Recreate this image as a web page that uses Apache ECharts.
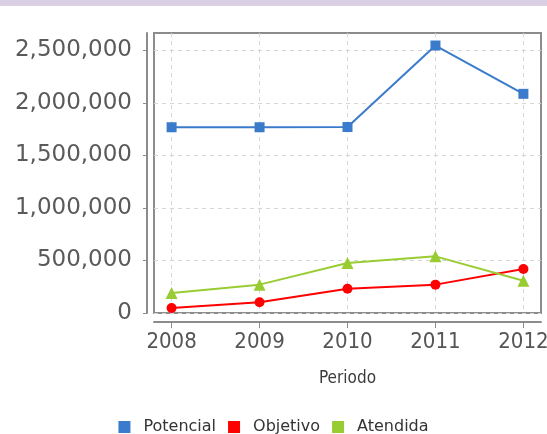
<!DOCTYPE html>
<html>
<head>
<meta charset="utf-8">
<script src="https://cdn.jsdelivr.net/npm/echarts@6/dist/echarts.min.js"></script>
<style>
html,body{margin:0;padding:0;background:#fff;}
#main{width:547px;height:434px;}
</style>
</head>
<body>
<div id="main"></div>
<script>
var years = [2008, 2009, 2010, 2011, 2012];
var potencial = [1768000, 1768000, 1770000, 2546000, 2086000];
var objetivo = [48000, 102000, 231000, 270000, 419000];
var atendida = [190000, 270000, 476000, 539000, 307000];
var yTicks = [0, 500000, 1000000, 1500000, 2000000, 2500000];
var color = ['#3a7bcc', '#ff0000', '#99cc33'];

function pairs(arr) {
	var out = [];
	for (var i = 0; i < years.length; i++) {
		out.push([years[i], arr[i]]);
	}
	return out;
}

function buildSerie(name, data, symbol, size, c) {
	return {
		name: name,
		type: 'line',
		data: pairs(data),
		symbol: symbol,
		symbolSize: size,
		lineStyle: { width: 2, color: c },
		itemStyle: { color: c },
		z: 3
	};
}

var chart = echarts.init(document.getElementById('main'));
var option = {
	animation: false,
	backgroundColor: '#fff',
	graphic: [{
		type: 'rect',
		shape: { x: 0, y: 0, width: 547, height: 6 },
		style: { fill: '#d9d0e3' }
	}],
	grid: {
		left: 154, right: 6, top: 33, bottom: 121,
		outerBoundsMode: 'none',
		containLabel: false,
		show: true,
		borderColor: '#8c8c8c',
		borderWidth: 2
	},
	legend: {
		top: 414,
		left: 'center',
		icon: 'rect',
		itemWidth: 12,
		itemHeight: 12,
		itemGap: 12,
		textStyle: { fontFamily: 'DejaVu Sans', fontSize: 16, color: '#333', padding: [0, 0, 0, 8] },
		data: ['Potencial', 'Objetivo', 'Atendida']
	},
	xAxis: {
		type: 'value',
		min: 2007.8,
		max: 2012.2,
		offset: 9,
		name: 'Periodo',
		nameLocation: 'middle',
		nameGap: 48,
		nameTextStyle: { fontFamily: 'DejaVu Sans Condensed, DejaVu Sans', fontSize: 17, color: '#3a3a3a' },
		axisLine: { show: true, onZero: false, lineStyle: { color: '#8c8c8c', width: 2 } },
		axisTick: { show: true, length: 6, customValues: years, lineStyle: { color: '#8c8c8c' } },
		axisLabel: {
			customValues: years,
			margin: 9,
			fontFamily: 'DejaVu Sans Condensed, DejaVu Sans',
			fontSize: 22,
			color: '#555',
			formatter: function (v) { return String(v); }
		},
		splitLine: { show: true, lineStyle: { color: '#d6d6d6', type: [4, 4] } }
	},
	yAxis: {
		type: 'value',
		min: 0,
		max: 2665000,
		interval: 500000,
		offset: 7,
		axisLine: { show: true, onZero: false, lineStyle: { color: '#8c8c8c', width: 2 } },
		axisTick: { show: true, length: 4, customValues: yTicks, lineStyle: { color: '#8c8c8c' } },
		axisLabel: {
			customValues: yTicks,
			margin: 15,
			fontFamily: 'DejaVu Sans',
			fontSize: 23,
			color: '#5a5a5a',
			formatter: function (v) { return v.toLocaleString('en-US'); }
		},
		splitLine: { show: true, lineStyle: { color: '#d6d6d6', type: [4, 4] } }
	},
	series: [
		buildSerie('Potencial', potencial, 'rect', 10, color[0]),
		buildSerie('Objetivo', objetivo, 'circle', 10, color[1]),
		buildSerie('Atendida', atendida, 'triangle', 12, color[2])
	]
};
chart.setOption(option);
</script>
</body>
</html>
